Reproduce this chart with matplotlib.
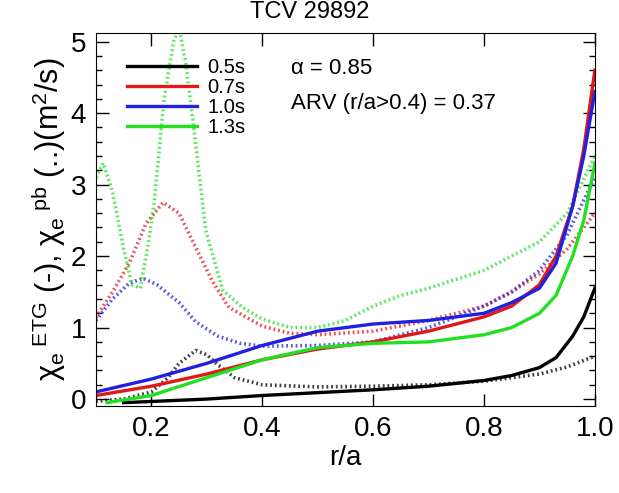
import matplotlib
matplotlib.use("Agg")
import matplotlib.pyplot as plt
from matplotlib.ticker import MultipleLocator

plt.rcParams['font.family'] = ['Liberation Sans', 'DejaVu Sans']
plt.rcParams['mathtext.fontset'] = 'custom'
plt.rcParams['mathtext.rm'] = 'Liberation Sans'
plt.rcParams['mathtext.it'] = 'Liberation Sans'

times = ["0.5s", "0.7s", "1.0s", "1.3s"]
colors = ["#000000", "#e01818", "#2020e0", "#20e020"]

# chi_e^ETG (solid)
x_etg_05 = [0.15, 0.3, 0.4, 0.5, 0.6, 0.7, 0.8, 0.85, 0.9, 0.93, 0.96, 0.98, 1.0]
y_etg_05 = [-0.05, 0.0, 0.05, 0.09, 0.13, 0.18, 0.26, 0.33, 0.44, 0.58, 0.88, 1.15, 1.55]

x_etg_07 = [0.1, 0.2, 0.3, 0.4, 0.5, 0.6, 0.7, 0.8, 0.85, 0.9, 0.93, 0.96, 0.98, 1.0]
y_etg_07 = [0.05, 0.18, 0.35, 0.55, 0.7, 0.8, 0.95, 1.15, 1.3, 1.6, 2.0, 2.7, 3.5, 4.6]

x_etg_10 = [0.1, 0.2, 0.3, 0.4, 0.5, 0.6, 0.7, 0.8, 0.85, 0.9, 0.93, 0.96, 0.98, 1.0]
y_etg_10 = [0.1, 0.28, 0.5, 0.75, 0.95, 1.05, 1.1, 1.2, 1.35, 1.55, 1.9, 2.7, 3.4, 4.3]

x_etg_13 = [0.12, 0.2, 0.3, 0.4, 0.5, 0.6, 0.7, 0.8, 0.85, 0.9, 0.93, 0.96, 0.98, 1.0]
y_etg_13 = [-0.05, 0.05, 0.3, 0.55, 0.72, 0.78, 0.8, 0.9, 1.0, 1.2, 1.45, 2.0, 2.5, 3.3]

# chi_e^pb (dotted)
x_pb_05 = [0.1, 0.15, 0.2, 0.23, 0.25, 0.28, 0.3, 0.32, 0.35, 0.4, 0.5, 0.6, 0.7, 0.8, 0.9, 0.95, 1.0]
y_pb_05 = [-0.03, 0.0, 0.1, 0.3, 0.5, 0.68, 0.62, 0.48, 0.3, 0.2, 0.17, 0.18, 0.2, 0.25, 0.35, 0.45, 0.6]

x_pb_07 = [0.1, 0.13, 0.16, 0.19, 0.221, 0.25, 0.28, 0.31, 0.34, 0.4, 0.45, 0.5, 0.6, 0.7, 0.8, 0.85, 0.9, 0.95, 1.0]
y_pb_07 = [1.14, 1.5, 1.9, 2.45, 2.75, 2.6, 2.12, 1.65, 1.28, 1.02, 0.92, 0.9, 0.95, 1.1, 1.3, 1.5, 1.75, 2.1, 2.6]

x_pb_10 = [0.1, 0.13, 0.16, 0.185, 0.21, 0.25, 0.28, 0.32, 0.36, 0.4, 0.5, 0.6, 0.7, 0.8, 0.85, 0.9, 0.95, 1.0]
y_pb_10 = [1.1, 1.4, 1.62, 1.69, 1.6, 1.35, 1.08, 0.88, 0.78, 0.74, 0.75, 0.8, 1.0, 1.3, 1.5, 1.8, 2.3, 3.1]

x_pb_13 = [0.1, 0.113, 0.13, 0.15, 0.165, 0.18, 0.195, 0.205, 0.223, 0.24, 0.25, 0.262, 0.277,
           0.298, 0.329, 0.365, 0.4, 0.45, 0.5, 0.55, 0.6, 0.65, 0.7, 0.8, 0.9, 0.95, 1.0]
y_pb_13 = [3.1, 3.3, 2.9, 2.1, 1.6, 1.55, 2.2, 2.75, 4.2, 5.0, 5.2, 4.7, 3.76,
           2.36, 1.52, 1.28, 1.12, 1.0, 1.0, 1.1, 1.3, 1.45, 1.55, 1.8, 2.2, 2.6, 3.4]

etg = [(x_etg_05, y_etg_05), (x_etg_07, y_etg_07), (x_etg_10, y_etg_10), (x_etg_13, y_etg_13)]
pb = [(x_pb_05, y_pb_05), (x_pb_07, y_pb_07), (x_pb_10, y_pb_10), (x_pb_13, y_pb_13)]

fig = plt.figure(figsize=(6.19, 4.93), dpi=100)
ax = fig.add_axes([0.155, 0.176, 0.806, 0.757])

for (x, y), c in zip(pb, colors):
    ax.plot(x, y, color=c, lw=2.6, ls=(0, (0.5, 0.8)), alpha=0.75)
for (x, y), c, t in zip(etg, colors, times):
    ax.plot(x, y, color=c, lw=2.4, label=t)

ax.set_xlim(0.1, 1.0)
ax.set_ylim(-0.1, 5.12)
ax.xaxis.set_major_locator(MultipleLocator(0.2))
ax.yaxis.set_major_locator(MultipleLocator(1))
ax.yaxis.set_minor_locator(MultipleLocator(0.2))
ax.tick_params(which='both', direction='in', top=True, right=True, labelsize=20, width=1)
ax.tick_params(which='major', length=9, pad=7)
ax.tick_params(which='minor', length=4)
ax.set_xticks([0.2, 0.4, 0.6, 0.8, 1.0], ["0.2", "0.4", "0.6", "0.8", "1.0"])

ax.set_xlabel("r/a", fontsize=20, labelpad=2)
ax.set_ylabel(r"$\chi_{e}{}^{\ ETG}$ (-), $\chi_{e}{}^{\ pb}$ (..)(m$^{2}$/s)", fontsize=22, labelpad=2)
fig.text(0.5, 0.975, "TCV 29892", fontsize=17, ha='center', va='center')

ax.legend(loc='upper left', bbox_to_anchor=(0.046, 0.955), frameon=False, fontsize=14.5,
          handlelength=3.5, handletextpad=0.5, labelspacing=0.05, borderaxespad=0)
ax.text(0.39, 0.905, "\u03b1 = 0.85", transform=ax.transAxes, fontsize=16, va='center')
ax.text(0.39, 0.81, "ARV (r/a>0.4) = 0.37", transform=ax.transAxes, fontsize=16, va='center')

fig.savefig("out.png", dpi=100)
